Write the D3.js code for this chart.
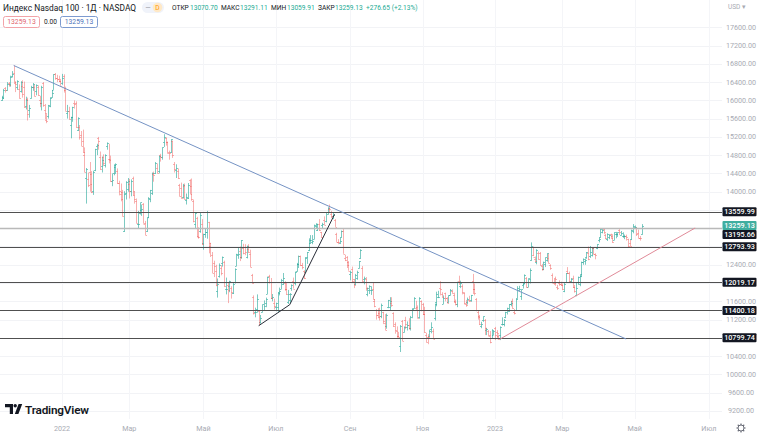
<!DOCTYPE html>
<html><head><meta charset="utf-8">
<script src="https://cdn.jsdelivr.net/npm/d3@7"></script>
<style>
html,body{margin:0;padding:0;background:#fff;overflow:hidden;}
svg{display:block;font-family:Roboto,"Noto Sans",sans-serif;}
</style></head><body>
<svg id="c" width="758" height="434"></svg>
<script>
// ---------- calendar (categories) ----------
const firstDay = "2021-11-11";
const lastCalendarDay = "2023-07-31";
const holidays = ["2021-11-25","2021-12-24","2022-01-17","2022-02-21","2022-04-15","2022-05-30","2022-06-20","2022-07-04","2022-09-05","2022-11-24","2022-12-26","2023-01-02","2023-01-16","2023-02-20","2023-04-07","2023-05-29","2023-06-19","2023-07-04"];
const monthNames = ["Янв","Фев","Мар","Апр","Май","Июн","Июл","Авг","Сен","Окт","Ноя","Дек"];

// ---------- daily OHLC (Nasdaq 100) ----------
const openP = [].concat(
 [16010,16080,16260,16230,16370,16360,16540,16610,16380,16300,16250,16200,16320],
 [16300,15880,16020,15780,16060,16300,16290,16200,16300,16000,15950,16380,15800,15560,15650,15880,16080,16230,16580,16490,16460,16420],
 [16380,16530,16230,15720,15770,15450,15630,15940,15940,15350,15410,15240,15100,14810,14300,14280,14440,14380,14020,14480],
 [14990,15180,14760,14560,14760,14580,14990,14720,14720,14240,14410,14530,14460,14190,13950,14000,13130,13980,14050],
 [14170,14020,14310,13930,13800,13290,13530,13600,13720,13320,13150,13550,13830,13970,14390,14400,14520,14460,14800,14750,15090,15170,15080],
 [14880,14870,15110,14600,14480,14450,14150,14090,13880,14120,13820,13860,14250,14130,13790,13300,13420,13040,13150,13300],
 [12870,13070,13120,13330,12820,12620,12430,12260,11830,12150,12330,12430,12460,11860,11960,11930,11900,11790,12020,12380,12620],
 [12700,12560,12760,12780,12560,12750,12630,12170,11700,11360,11440,11390,11140,11370,11420,11560,11760,12150,12030,11680,11560],
 [11480,11470,11800,11880,11970,12010,11860,11580,11620,11900,12050,12000,12270,12410,12590,12390,12270,12240,12560,12720],
 [12880,12890,12970,13250,13170,13290,13110,13260,13370,13350,13520,13630,13520,13470,13390,13070,12900,12880,13010,13150,12550,12580,12450],
 [12200,12310,12080,11980,12110,12330,12540,12340,12080,12080,11770,11840,11840,11870,11600,11400,11290,11340,11270,11360,11130],
 [11050,11470,11470,11560,11340,11100,10940,10850,10620,11160,10930,11200,11030,11080,11010,11400,11450,11450,11480,11260,11600],
 [11540,11330,10860,10820,10840,10990,10960,11230,11580,11700,11900,11770,11540,11780,11670,11590,11730,11820,11730,11600,11550],
 [12040,11930,11940,11780,11540,11580,11620,11620,12040,11870,11660,11370,11280,11060,11200,11200,10980,10960,10860,10800,10870],
 [11010,10930,10850,10860,11100,11110,11250,11410,11380,11540,11600,11370,11400,11680,11850,11710,11950,11980,12100,11920],
 [12090,12500,12610,12530,12470,12660,12650,12380,12300,12420,12500,12540,12400,12180,12030,12120,11910,12000,11980],
 [11960,11820,12020,12270,12210,12050,12110,11920,11730,12020,11980,12160,12450,12480,12580,12660,12590,12620,12760,12640,12760,12940,13000],
 [13120,13180,13060,12970,13000,13070,13040,12950,13070,13070,13160,13060,13020,13020,13030,12960,12880,12960,13140],
 [13220,13210,13100,12990,13070.70]
);
const highP = [].concat(
 [16100,16250,16290,16400,16400,16540,16640,16764,16420,16440,16350,16420,16440],
 [16410,16080,16060,15900,16320,16380,16340,16350,16330,16100,16320,16400,15920,15700,15900,16070,16230,16570,16600,16560,16540,16470],
 [16580,16570,16300,15900,15860,15640,15860,16000,15980,15630,15460,15330,15360,14970,14520,14420,14650,14450,14460,14940],
 [15050,15200,14880,14770,14820,14820,15080,15050,14790,14400,14600,14620,14510,14240,14180,14040,14010,14230,14300],
 [14280,14270,14330,14000,13850,13580,13760,13720,13750,13360,13440,13880,14040,14420,14440,14650,14620,14790,14830,14970,15260,15190,15100],
 [14900,15150,15120,14650,14600,14510,14170,14200,14170,14180,13960,14190,14270,14290,13830,13540,13450,13220,13540,13400],
 [13080,13190,13580,13340,12880,12680,12490,12400,12100,12430,12390,12580,12490,12120,12000,12050,11930,12020,12320,12640,12770],
 [12800,12940,12860,12850,12820,12850,12730,12200,11730,11460,11750,11400,11300,11530,11620,11680,12140,12180,12110,11760,11660],
 [11570,11790,11900,12090,12220,12040,12000,11850,11780,11970,12120,12250,12440,12600,12600,12440,12280,12570,12680,12980],
 [13050,13050,13280,13310,13300,13400,13120,13320,13460,13550,13660,13720,13580,13540,13400,13100,12960,12990,13150,13180,12620,12590,12480],
 [12270,12360,12090,12200,12270,12480,12740,12370,12140,12130,11900,11950,11930,12010,11650,11430,11450,11460,11550,11370,11320],
 [11330,11630,11690,11690,11360,11140,11050,10930,11080,11190,11050,11260,11160,11230,11280,11450,11690,11610,11510,11690,11620],
 [11560,11480,10910,10880,10980,11140,11000,11550,11810,11830,12040,11800,11730,11790,11690,11730,11870,11860,11790,11640,12030],
 [12160,12050,11970,11800,11630,11680,11720,11740,12200,11990,11670,11410,11300,11150,11270,11210,11020,10970,10950,10990,10950],
 [11040,10970,10870,11050,11250,11210,11370,11460,11540,11610,11660,11430,11650,11930,11940,11860,12010,12190,12130,12100],
 [12320,12890,12800,12580,12740,12690,12680,12420,12470,12560,12650,12640,12410,12210,12090,12140,11960,12060,12030],
 [11990,12000,12220,12350,12250,12110,12160,11960,12010,12140,12190,12470,12540,12540,12680,12800,12810,12770,12790,12650,12850,12990,13200],
 [13200,13200,13080,13090,13070,13080,13070,13110,13120,13110,13180,13140,13110,13060,13060,12970,12950,13170,13290],
 [13260,13220,13170,13030,13291.11]
);
const lowP = [].concat(
 [15990,16030,16170,16210,16300,16300,16500,16390,16180,16230,16040,16170,16060],
 [15840,15800,15560,15620,16040,16210,16090,16110,16100,15850,15780,15860,15580,15500,15600,15850,16060,16230,16450,16400,16400,16320],
 [16340,16170,15770,15600,15580,15170,15530,15820,15400,15330,15140,15000,14850,14430,13740,14100,14000,13970,13930,14450],
 [14800,14920,14480,14420,14560,14530,14920,14620,14220,14120,14360,14390,14170,13920,13790,13460,13120,13830,14000],
 [13850,13900,13920,13740,13310,13200,13500,13470,13300,13050,13120,13420,13770,13930,14220,14390,14400,14400,14660,14700,14980,15010,14840],
 [14700,14850,14740,14420,14300,14280,13900,13850,13850,13830,13720,13840,13950,13800,13330,13200,13010,12970,13100,12830],
 [12730,12990,12970,12650,12570,12220,12130,11930,11680,12120,12170,12360,11920,11750,11560,11800,11660,11760,11990,12370,12530],
 [12480,12530,12630,12610,12540,12660,12350,11990,11310,11250,11350,11070,11110,11360,11400,11470,11760,11990,11650,11600,11420],
 [11380,11360,11730,11870,11960,11830,11740,11540,11560,11830,11880,11950,12250,12330,12370,12300,12090,12220,12420,12700],
 [12860,12850,12960,13190,13140,13140,12990,13200,13270,13330,13500,13550,13420,13400,13230,12900,12850,12860,12990,12640,12480,12330,12270],
 [12060,12020,11890,11960,12070,12320,12530,12030,11970,11830,11710,11760,11740,11640,11470,11200,11230,11180,11230,11100,10970],
 [11000,11450,11390,11480,11040,10890,10800,10810,10490,10730,10920,10990,10960,10980,10960,11230,11440,11400,11230,11220,11380],
 [11300,10910,10700,10660,10820,10900,10780,11180,11490,11670,11730,11680,11540,11600,11560,11570,11730,11770,11570,11510,11470],
 [11960,11890,11750,11530,11480,11530,11590,11590,11760,11730,11380,11200,11080,11010,11150,10860,10860,10840,10680,10790,10860],
 [10750,10770,10760,10750,11070,11050,11230,11310,11370,11490,11440,11310,11390,11660,11830,11630,11880,11980,11900,11910],
 [11990,12490,12590,12460,12410,12510,12380,12270,12280,12350,12470,12430,12290,12000,11960,11940,11850,11940,11950],
 [11850,11800,12010,12200,12010,12010,11900,11790,11710,11960,11930,12130,12400,12400,12530,12500,12550,12580,12630,12520,12740,12890,12990],
 [13090,13070,12960,12920,12960,12970,12880,12940,12980,13010,13050,13040,12990,12960,12930,12790,12800,12940,13090],
 [13190,13030,12980,12930,13059.91]
);
const closeP = [].concat(
 [16060,16230,16230,16360,16330,16520,16570,16400,16350,16420,16060,16400,16140],
 [15850,16000,15710,15840,16300,16350,16100,16330,16120,15950,16300,15900,15720,15550,15890,16060,16170,16570,16480,16470,16430,16320],
 [16500,16280,15770,15770,15600,15630,15860,15910,15410,15610,15190,15010,14870,14440,14500,14150,14170,14000,14440,14930],
 [15020,15110,14500,14700,14620,14800,15060,14700,14240,14260,14590,14600,14180,14010,13850,13470,13960,14220,14240],
 [14010,14240,14010,13840,13320,13290,13770,13620,13300,13050,13440,13870,14040,14420,14370,14620,14410,14790,14770,14970,15200,15080,14840],
 [14850,15150,14800,14490,14520,14290,13900,13870,14140,13850,13880,14150,13960,13850,13350,13540,13010,13000,13480,12850],
 [13080,13120,13560,12880,12780,12230,12370,11950,11970,12390,12230,12560,11930,11880,11840,12040,11800,11970,12300,12640,12640],
 [12580,12940,12660,12690,12800,12690,12350,12000,11350,11360,11640,11100,11240,11530,11500,11660,12140,12020,11670,11700,11500],
 [11560,11780,11820,12060,12110,11860,11770,11750,11760,11960,11880,12240,12420,12600,12400,12360,12110,12540,12680,12950],
 [12950,12920,13260,13290,13210,13170,13010,13300,13280,13550,13650,13620,13460,13500,13230,12900,12890,12930,13150,12640,12510,12390,12270],
 [12250,12040,11950,12180,12240,12480,12720,12050,12110,11890,11890,11930,11840,11640,11490,11310,11250,11270,11510,11160,10970],
 [11290,11620,11600,11510,11060,10970,10840,10820,11070,10740,11040,11100,11080,11010,11260,11430,11670,11420,11240,11670,11410],
 [11320,10920,10700,10810,10960,11030,10780,11540,11760,11700,11860,11690,11680,11680,11560,11730,11840,11780,11590,11530,12030],
 [12030,12010,11800,11560,11520,11660,11600,11740,11880,11790,11410,11260,11100,11110,11270,11010,10990,10850,10700,10970,10940],
 [10860,10910,10780,11040,11110,11180,11370,11450,11540,11570,11460,11350,11640,11890,11880,11860,12010,12170,11910,12100],
 [12290,12800,12580,12490,12720,12520,12400,12300,12460,12560,12650,12440,12340,12000,12010,12080,11890,11970,11960],
 [11880,11980,12220,12220,12040,12090,11920,11830,11890,12140,12190,12450,12520,12500,12680,12520,12670,12770,12640,12620,12850,12960,13180],
 [13170,13110,12980,13080,13060,12990,12900,13110,13080,13110,13110,13100,13020,13040,13010,12800,12810,13160,13250],
 [13230,13080,12990,12980,13259.13]
);

// ---------- horizontal levels and trend drawings ----------
const levelPrices = [13559.99, 13195.66, 12793.93, 12019.17, 11400.18, 10799.74];
const levelColors = ["#505050", "#b9b9b9", "#505050", "#505050", "#505050", "#505050"];
const lastPrice = 13259.13;
const blueTrend = [["2021-11-22", 16764], ["2023-04-24", 10775]];
const blackTrend = [["2022-06-16", 11065], ["2022-07-14", 11525], ["2022-08-19", 13505]];
const redTrend = [["2023-01-06", 10775], ["2023-06-21", 13205]];
const priceTicks = d3.range(9200, 17601, 400);
const headerFields = [["ОТКР","13070.70"],["МАКС","13291.11"],["МИН","13059.91"],["ЗАКР","13259.13"]];
const changeText = "+276.65 (+2.13%)";

// ---------- build calendar ----------
const calendar = [];
{
  let t = Date.parse(firstDay + "T00:00:00Z");
  const end = Date.parse(lastCalendarDay + "T00:00:00Z");
  while (t <= end) {
    const dt = new Date(t);
    const wd = dt.getUTCDay();
    const s = dt.toISOString().slice(0, 10);
    if (wd !== 0 && wd !== 6 && !holidays.includes(s)) calendar.push(s);
    t += 86400000;
  }
}
const idx = new Map(calendar.map((s, i) => [s, i]));

const svg = d3.select("#c");
const W = 758, H = 434, paneRight = 722, paneBottom = 419;

const x = d3.scaleLinear().domain([idx.get("2022-01-03"), idx.get("2023-01-03")]).range([62, 495]);
const y = d3.scaleLinear().domain([9200, 17600]).range([410.9, 27.3]);

svg.append("rect").attr("width", W).attr("height", H).attr("fill", "#fff");

// month labels positions
const monthTicks = [];
calendar.forEach((s, i) => {
  const prev = calendar[i - 1];
  if (i > 0 && prev.slice(0, 7) !== s.slice(0, 7)) {
    const m = +s.slice(5, 7) - 1;
    if (m % 2 === 0) monthTicks.push({ i, label: m === 0 ? s.slice(0, 4) : monthNames[m] });
  }
});
const visibleMonthTicks = monthTicks.filter(d => x(d.i) > 20 && x(d.i) < 716);

// grid
const grid = svg.append("g");
grid.selectAll("line.h").data(priceTicks).join("line")
  .attr("x1", 0).attr("x2", paneRight)
  .attr("y1", d => Math.round(y(d)) + 0.5).attr("y2", d => Math.round(y(d)) + 0.5)
  .attr("stroke", "#f2f3f6").attr("stroke-width", 1);
grid.selectAll("line.v").data(visibleMonthTicks).join("line")
  .attr("x1", d => Math.round(x(d.i)) + 0.5).attr("x2", d => Math.round(x(d.i)) + 0.5)
  .attr("y1", 0).attr("y2", paneBottom)
  .attr("stroke", "#f4f5f8").attr("stroke-width", 1);

// clip for pane
svg.append("clipPath").attr("id", "pane").append("rect")
  .attr("x", 0).attr("y", 0).attr("width", paneRight).attr("height", paneBottom);
const pane = svg.append("g").attr("clip-path", "url(#pane)");

// OHLC bars
const n = Math.min(closeP.length, openP.length, highP.length, lowP.length);
let upPath = "", downPath = "";
for (let i = 0; i < n; i++) {
  const xs = Math.round(x(i)) + 0.5;
  const yh = y(highP[i]), yl = y(lowP[i]);
  const yo = Math.round(y(openP[i])) + 0.5, yc = Math.round(y(closeP[i])) + 0.5;
  const seg = `M${xs},${yh.toFixed(1)}V${yl.toFixed(1)}M${xs - 1.5},${yo}H${xs}M${xs},${yc}H${xs + 1.5}`;
  if (closeP[i] >= openP[i]) upPath += seg; else downPath += seg;
}
pane.append("path").attr("d", upPath).attr("stroke", "#26a69a").attr("stroke-opacity", 0.6).attr("fill", "none").attr("stroke-width", 1);
pane.append("path").attr("d", downPath).attr("stroke", "#ef5350").attr("stroke-opacity", 0.45).attr("fill", "none").attr("stroke-width", 1);

// levels
pane.selectAll("line.level").data(levelPrices).join("line")
  .attr("x1", 0).attr("x2", paneRight)
  .attr("y1", d => Math.round(y(d)) + 0.5).attr("y2", d => Math.round(y(d)) + 0.5)
  .attr("stroke", (d, i) => levelColors[i]).attr("stroke-width", (d, i) => i === 1 ? 1.6 : 1);

// trend drawings
const line = d3.line().x(d => x(idx.get(d[0]))).y(d => y(d[1]));
pane.append("path").datum(blueTrend).attr("d", line).attr("fill", "none").attr("stroke", "#7593c4").attr("stroke-width", 1);
pane.append("path").datum(blackTrend).attr("d", line).attr("fill", "none").attr("stroke", "#2a2e39").attr("stroke-width", 1);
pane.append("path").datum(redTrend).attr("d", line).attr("fill", "none").attr("stroke", "#e08a98").attr("stroke-width", 1);

// price axis labels
const boxes = [{ p: lastPrice, fill: "#3fae9f" }].concat(levelPrices.map(p => ({ p, fill: "#131722" })));
const boxH = 9;
boxes.forEach(b => b.y = y(b.p));
const sortedBoxes = boxes.slice().sort((a, b) => a.y - b.y);
for (let k = 1; k < sortedBoxes.length; k++) {
  const prev = sortedBoxes[k - 1], cur = sortedBoxes[k];
  if (cur.y - prev.y < boxH) cur.y = prev.y + boxH;
}
const axisTicks = priceTicks.filter(p => boxes.every(b => Math.abs(y(p) - b.y) > 8));
svg.append("g").selectAll("text").data(axisTicks).join("text")
  .attr("x", 741).attr("y", d => y(d)).attr("dy", "0.35em")
  .attr("text-anchor", "middle").attr("font-size", 7.2).attr("fill", "#a8abb3")
  .text(d => d3.format(".2f")(d));
const bg = svg.append("g").selectAll("g").data(boxes).join("g");
bg.append("rect").attr("x", 722.5).attr("y", d => d.y - boxH / 2).attr("width", 34).attr("height", boxH)
  .attr("fill", d => d.fill).attr("rx", 1);
bg.append("text").attr("x", 739.5).attr("y", d => d.y).attr("dy", "0.36em")
  .attr("text-anchor", "middle").attr("font-size", 7.2).attr("fill", "#fff").attr("font-weight", 500)
  .text(d => d3.format(".2f")(d.p));
svg.append("text").attr("x", 728).attr("y", 9).attr("font-size", 6.5).attr("fill", "#a8abb3").text("USD ▾");

// time axis labels
svg.append("g").selectAll("text").data(visibleMonthTicks).join("text")
  .attr("x", d => x(d.i)).attr("y", 428).attr("dy", "0.35em")
  .attr("text-anchor", "middle").attr("font-size", 7.2).attr("fill", "#a8abb3")
  .text(d => d.label);

// gear icon
const gear = svg.append("g").attr("transform", "translate(741,428)");
gear.append("circle").attr("r", 3).attr("fill", "none").attr("stroke", "#6a6d78").attr("stroke-width", 1);
d3.range(8).forEach(k => {
  const a = k * Math.PI / 4;
  gear.append("line").attr("x1", Math.cos(a) * 3).attr("y1", Math.sin(a) * 3)
    .attr("x2", Math.cos(a) * 4.6).attr("y2", Math.sin(a) * 4.6)
    .attr("stroke", "#6a6d78").attr("stroke-width", 1.2);
});

// header
svg.append("text").attr("x", 3).attr("y", 10.5).attr("font-size", 8.4).attr("fill", "#131722")
  .text("Индекс Nasdaq 100 · 1Д · NASDAQ");
svg.append("rect").attr("x", 142).attr("y", 2).attr("width", 22).attr("height", 11).attr("rx", 5.5).attr("fill", "#f0f3fa");
svg.append("text").attr("x", 148).attr("y", 7.5).attr("dy", "0.35em").attr("text-anchor", "middle").attr("font-size", 7).attr("fill", "#9598a1").text("—");
svg.append("circle").attr("cx", 157.5).attr("cy", 7.5).attr("r", 4.8).attr("fill", "#ffe9c7");
svg.append("text").attr("x", 157.5).attr("y", 7.5).attr("dy", "0.36em").attr("text-anchor", "middle").attr("font-size", 6.5).attr("fill", "#ff9800").text("D");
const hx = [[172, 190], [221, 240], [271, 287], [318, 335]];
headerFields.forEach((f, k) => {
  svg.append("text").attr("x", hx[k][0]).attr("y", 10).attr("font-size", 6.6).attr("fill", "#131722").text(f[0]);
  svg.append("text").attr("x", hx[k][1]).attr("y", 10).attr("font-size", 6.6).attr("fill", "#22ab94").text(f[1]);
});
svg.append("text").attr("x", 366).attr("y", 10).attr("font-size", 6.6).attr("fill", "#22ab94").text(changeText);

svg.append("rect").attr("x", 3.5).attr("y", 16.5).attr("width", 36).attr("height", 11).attr("rx", 2).attr("fill", "#fff").attr("stroke", "#f2a3a8");
svg.append("text").attr("x", 21.5).attr("y", 22).attr("dy", "0.35em").attr("text-anchor", "middle").attr("font-size", 6.8).attr("fill", "#e0626d").text("13259.13");
svg.append("text").attr("x", 44).attr("y", 22).attr("dy", "0.35em").attr("font-size", 6.6).attr("fill", "#131722").text("0.00");
svg.append("rect").attr("x", 60.5).attr("y", 16.5).attr("width", 37).attr("height", 11).attr("rx", 2).attr("fill", "#fff").attr("stroke", "#7d9bd0");
svg.append("text").attr("x", 79).attr("y", 22).attr("dy", "0.35em").attr("text-anchor", "middle").attr("font-size", 6.8).attr("fill", "#4a72b8").text("13259.13");

// TradingView logo
const logo = svg.append("g").attr("fill", "#131722");
logo.append("path").attr("d", "M5,404 H13 V414 H9.8 V407.3 H5 Z");
logo.append("circle").attr("cx", 15.2).attr("cy", 405.7).attr("r", 1.7);
logo.append("path").attr("d", "M18.6,404 H22.2 L18.4,414 H14.8 Z");
svg.append("text").attr("x", 25).attr("y", 413.5).attr("font-size", 11.8).attr("font-weight", 600).attr("letter-spacing", -0.2).attr("fill", "#131722").text("TradingView");
</script>
</body></html>
